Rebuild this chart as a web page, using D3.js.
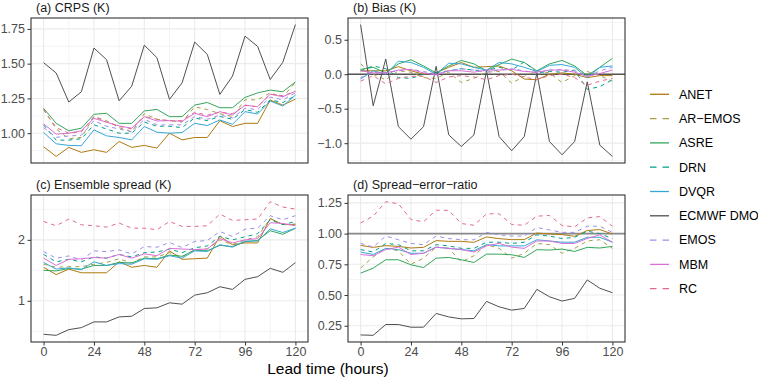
<!DOCTYPE html>
<html><head><meta charset="utf-8">
<script src="https://cdn.jsdelivr.net/npm/d3@7"></script>
<style>body{margin:0;background:#fff}svg{font-family:"Liberation Sans",Arial,Helvetica,sans-serif}</style>
</head><body><svg id="c" width="758" height="380"></svg>
<script>
const leadTimes = [0,6,12,18,24,30,36,42,48,54,60,66,72,78,84,90,96,102,108,114,120];
const models = ["ANET","AR−EMOS","ASRE","DRN","DVQR","ECMWF DMO","EMOS","MBM","RC"];
const colors = ["#B07A10","#A3A046","#33A65A","#00A08A","#35A8D6","#505050","#9C8FEA","#DA6FD8","#E36B8D"];
const dashed = [false,true,false,true,false,false,true,false,true];
const panelTitles = ["(a) CRPS (K)","(b) Bias (K)","(c) Ensemble spread (K)","(d) Spread−error−ratio"];
const refLines = [null, 0, null, 1];
const yTicksA = [1.00,1.25,1.50,1.75];
const yTicksB = [-1.0,-0.5,0.0,0.5];
const yTicksC = [1,2];
const yTicksD = [0.25,0.50,0.75,1.00,1.25];
const xTicks = [0,24,48,72,96,120];

// (a) CRPS, rows in model order
const crps = [
 [0.902,0.833,0.898,0.862,0.881,0.862,0.940,0.898,0.912,0.893,1.000,0.952,0.969,0.969,1.090,1.048,1.071,1.071,1.238,1.202,1.245],
 [1.170,1.030,0.960,0.970,1.120,1.090,1.040,1.010,1.140,1.100,1.090,1.080,1.190,1.170,1.140,1.120,1.240,1.240,1.290,1.260,1.365],
 [1.179,1.071,1.017,1.036,1.136,1.143,1.071,1.071,1.160,1.171,1.119,1.119,1.202,1.221,1.183,1.183,1.257,1.290,1.310,1.298,1.369],
 [1.060,0.950,0.950,0.960,1.060,1.030,1.000,1.000,1.080,1.050,1.050,1.040,1.110,1.090,1.120,1.100,1.170,1.150,1.240,1.220,1.270],
 [1.005,0.924,0.912,0.910,1.024,0.981,0.969,0.952,1.048,1.007,1.000,1.005,1.071,1.055,1.095,1.064,1.155,1.138,1.231,1.195,1.274],
 [1.507,1.433,1.224,1.298,1.612,1.529,1.233,1.338,1.633,1.543,1.243,1.362,1.655,1.567,1.279,1.410,1.698,1.624,1.386,1.510,1.781],
 [1.040,0.970,0.980,0.985,1.090,1.050,1.030,1.010,1.100,1.060,1.060,1.060,1.120,1.100,1.130,1.110,1.180,1.170,1.260,1.240,1.290],
 [1.067,0.993,1.000,1.017,1.107,1.079,1.052,1.036,1.119,1.088,1.090,1.086,1.143,1.119,1.155,1.131,1.202,1.190,1.281,1.262,1.302],
 [1.170,1.040,1.000,1.010,1.120,1.080,1.050,1.030,1.120,1.100,1.090,1.090,1.150,1.130,1.150,1.140,1.200,1.190,1.280,1.270,1.300]
];
// (b) Bias
const bias = [
 [0.05,0.05,0.05,0.11,0.05,0.00,0.02,0.10,0.17,0.10,0.11,0.12,0.05,-0.07,-0.08,0.00,0.02,0.00,-0.05,-0.02,-0.02],
 [0.15,0.00,-0.08,0.05,0.03,-0.05,-0.06,0.03,-0.12,-0.06,0.03,0.04,-0.13,-0.03,0.05,0.02,-0.12,-0.02,0.04,-0.02,-0.10],
 [0.07,0.10,0.02,0.15,0.21,0.12,0.02,0.12,0.20,0.15,0.05,0.14,0.22,0.17,0.05,0.15,0.20,0.12,-0.02,0.10,0.23],
 [0.05,0.12,0.08,-0.05,-0.06,0.00,0.02,0.05,0.08,0.06,0.05,0.10,0.06,0.18,0.02,0.04,0.03,0.06,-0.22,-0.18,-0.08],
 [-0.07,0.05,0.00,0.19,0.17,0.10,0.00,0.16,0.15,0.10,0.06,0.17,0.15,0.10,0.04,0.13,0.14,0.10,-0.05,0.10,0.12],
 [0.72,-0.457,0.221,-0.76,-0.942,-0.76,0.115,-0.88,-1.048,-0.88,0.048,-0.904,-1.11,-0.904,0.019,-0.976,-1.168,-0.976,-0.11,-1.029,-1.192],
 [-0.05,0.03,0.02,0.05,0.07,0.04,0.00,0.05,0.08,0.06,0.03,0.06,0.08,0.05,0.02,0.06,0.07,0.05,-0.04,0.05,0.10],
 [0.05,0.02,0.02,0.06,0.07,0.02,-0.01,0.05,0.05,0.03,0.06,0.06,0.07,0.04,0.03,0.06,0.06,0.03,-0.03,0.01,0.06],
 [-0.10,-0.02,-0.14,-0.06,-0.03,-0.03,-0.12,-0.04,-0.02,-0.04,-0.08,-0.02,0.00,-0.04,-0.08,-0.02,0.00,-0.05,-0.16,-0.10,-0.06]
];
// (c) Ensemble spread
const spread = [
 [1.55,1.43,1.52,1.46,1.46,1.46,1.64,1.55,1.58,1.55,1.82,1.68,1.69,1.70,2.06,1.92,1.95,1.95,2.35,2.25,2.25],
 [1.60,1.55,1.56,1.56,1.60,1.63,1.69,1.62,1.72,1.72,1.79,1.72,1.84,1.85,2.00,1.92,2.00,2.05,2.35,2.25,2.26],
 [1.50,1.49,1.53,1.52,1.58,1.58,1.63,1.62,1.70,1.69,1.75,1.73,1.83,1.82,1.91,1.89,1.97,1.99,2.15,2.09,2.19],
 [1.76,1.64,1.68,1.64,1.72,1.70,1.76,1.72,1.79,1.80,1.85,1.79,1.87,1.90,2.06,2.00,2.05,2.10,2.33,2.25,2.30],
 [1.63,1.52,1.54,1.51,1.64,1.58,1.61,1.60,1.69,1.68,1.74,1.70,1.82,1.81,1.92,1.88,1.98,1.98,2.18,2.12,2.19],
 [0.451,0.434,0.527,0.560,0.654,0.654,0.736,0.747,0.874,0.885,0.967,0.945,1.093,1.132,1.231,1.187,1.352,1.396,1.533,1.467,1.626],
 [1.808,1.698,1.736,1.670,1.819,1.808,1.835,1.769,1.890,1.879,1.956,1.874,1.973,1.989,2.137,2.055,2.176,2.192,2.396,2.330,2.396],
 [1.70,1.58,1.68,1.69,1.71,1.70,1.76,1.70,1.77,1.74,1.86,1.85,1.84,1.85,2.02,1.95,2.00,2.02,2.28,2.27,2.23],
 [2.302,2.231,2.341,2.247,2.231,2.209,2.275,2.192,2.192,2.165,2.302,2.220,2.220,2.231,2.423,2.319,2.330,2.341,2.626,2.538,2.505]
];
// (d) Spread-error-ratio
const ser = [
 [0.904,0.888,0.902,0.896,0.883,0.888,0.943,0.937,0.937,0.929,0.973,0.959,0.951,0.951,1.005,0.997,0.992,0.978,1.025,1.033,0.997],
 [0.72,0.81,0.88,0.86,0.75,0.80,0.89,0.88,0.77,0.82,0.91,0.88,0.80,0.84,0.92,0.91,0.84,0.88,0.94,0.95,0.88],
 [0.678,0.719,0.787,0.787,0.746,0.724,0.800,0.806,0.787,0.765,0.833,0.833,0.828,0.806,0.869,0.866,0.874,0.855,0.888,0.883,0.896],
 [0.87,0.85,0.92,0.91,0.86,0.86,0.91,0.90,0.88,0.88,0.93,0.93,0.92,0.93,0.99,0.98,0.96,0.97,1.02,1.00,0.96],
 [0.85,0.83,0.88,0.87,0.84,0.84,0.89,0.88,0.87,0.86,0.91,0.90,0.90,0.90,0.95,0.94,0.93,0.93,0.97,0.97,0.93],
 [0.175,0.172,0.260,0.260,0.238,0.238,0.350,0.322,0.306,0.309,0.448,0.404,0.377,0.391,0.546,0.486,0.451,0.473,0.623,0.555,0.519],
 [0.92,0.89,0.98,0.95,0.92,0.91,0.98,0.96,0.95,0.95,1.01,0.99,0.98,0.98,1.05,1.03,1.01,1.01,1.06,1.06,1.01],
 [0.83,0.82,0.87,0.89,0.83,0.84,0.89,0.88,0.87,0.85,0.90,0.92,0.89,0.88,0.94,0.94,0.92,0.92,0.96,0.99,0.93],
 [1.087,1.142,1.260,1.243,1.115,1.096,1.191,1.189,1.082,1.068,1.161,1.161,1.074,1.068,1.142,1.148,1.066,1.055,1.128,1.139,1.060]
];

const metrics = [crps, bias, spread, ser];
const yTicks = [yTicksA, yTicksB, yTicksC, yTicksD];
const yFmt = [d3.format(".2f"), d3.format(".1f"), d3.format("d"), d3.format(".2f")];

const svg = d3.select("#c");
const panels = [
  {x0:31, x1:308, y0:18, y1:163, showX:false},
  {x0:348, x1:625, y0:18, y1:163, showX:false},
  {x0:31, x1:308, y0:195, y1:342, showX:true},
  {x0:348, x1:625, y0:195, y1:342, showX:true}
];
const minus = s => s.replace("-", "−");
const FONT = "'Liberation Sans',Arial,sans-serif";

panels.forEach((p, k) => {
  const data = metrics[k];
  const all = data.flat();
  const [lo, hi] = d3.extent(all);
  const pad = (hi - lo) * 0.05;
  const x = d3.scaleLinear().domain([-6, 126]).range([p.x0, p.x1]);
  const y = d3.scaleLinear().domain([lo - pad, hi + pad]).range([p.y1, p.y0]);
  const g = svg.append("g");
  g.append("rect").attr("x", p.x0).attr("y", p.y0).attr("width", p.x1 - p.x0).attr("height", p.y1 - p.y0).attr("fill", "#fff");
  const yt = yTicks[k];
  const step = yt[1] - yt[0];
  const minorY = [];
  for (let v = yt[0] - step / 2; v <= hi + pad; v += step) if (v >= lo - pad) minorY.push(v);
  g.selectAll(".my").data(minorY).join("line").attr("x1", p.x0).attr("x2", p.x1)
    .attr("y1", d => y(d)).attr("y2", d => y(d)).attr("stroke", "#EBEBEB").attr("stroke-width", 0.55);
  const minorX = [12, 36, 60, 84, 108];
  g.selectAll(".mx").data(minorX).join("line").attr("y1", p.y0).attr("y2", p.y1)
    .attr("x1", d => x(d)).attr("x2", d => x(d)).attr("stroke", "#EBEBEB").attr("stroke-width", 0.55);
  g.selectAll(".gy").data(yt).join("line").attr("x1", p.x0).attr("x2", p.x1)
    .attr("y1", d => y(d)).attr("y2", d => y(d)).attr("stroke", "#EBEBEB").attr("stroke-width", 1.1);
  g.selectAll(".gx").data(xTicks).join("line").attr("y1", p.y0).attr("y2", p.y1)
    .attr("x1", d => x(d)).attr("x2", d => x(d)).attr("stroke", "#EBEBEB").attr("stroke-width", 1.1);
  if (refLines[k] !== null) {
    g.append("line").attr("x1", p.x0).attr("x2", p.x1).attr("y1", y(refLines[k])).attr("y2", y(refLines[k]))
      .attr("stroke", k === 1 ? "#555" : "#8a8a8a").attr("stroke-width", k === 1 ? 1.3 : 1.6);
  }
  const line = d3.line().x((d, i) => x(leadTimes[i])).y(d => y(d));
  data.forEach((s, m) => {
    g.append("path").attr("d", line(s)).attr("fill", "none").attr("stroke", colors[m])
      .attr("stroke-width", 1).attr("stroke-dasharray", dashed[m] ? "4,4" : null);
  });
  g.append("rect").attr("x", p.x0).attr("y", p.y0).attr("width", p.x1 - p.x0).attr("height", p.y1 - p.y0)
    .attr("fill", "none").attr("stroke", "#333").attr("stroke-width", 1.1);
  const ya = d3.axisLeft(y).tickValues(yt).tickSize(3.5).tickPadding(2.5).tickFormat(d => minus(yFmt[k](d)));
  const ag = g.append("g").attr("transform", `translate(${p.x0},0)`).call(ya);
  ag.select(".domain").remove();
  ag.selectAll("line").attr("stroke", "#333");
  ag.selectAll("text").attr("fill", "#4D4D4D").style("font-size", "12.5px").style("font-family", FONT);
  if (p.showX) {
    const xa = d3.axisBottom(x).tickValues(xTicks).tickSize(3.5).tickPadding(2).tickFormat(d3.format("d"));
    const bg = g.append("g").attr("transform", `translate(0,${p.y1})`).call(xa);
    bg.select(".domain").remove();
    bg.selectAll("line").attr("stroke", "#333");
    bg.selectAll("text").attr("fill", "#4D4D4D").style("font-size", "12.5px").style("font-family", FONT);
  }
  svg.append("text").attr("x", p.x0 + 5).attr("y", p.y0 - 6).attr("fill", "#1a1a1a")
    .style("font-size", "12.5px").text(panelTitles[k]);
});

svg.append("text").attr("x", 328).attr("y", 374).attr("text-anchor", "middle")
  .style("font-size", "15.5px").attr("fill", "#000").text("Lead time (hours)");

const lg = svg.append("g");
models.forEach((m, i) => {
  const yy = 94.3 + i * 24.3;
  lg.append("line").attr("x1", 650).attr("x2", 669).attr("y1", yy).attr("y2", yy)
    .attr("stroke", colors[i]).attr("stroke-width", 1.3).attr("stroke-dasharray", dashed[i] ? "6.5,6" : null);
  lg.append("text").attr("x", 679).attr("y", yy).attr("dy", "0.35em").style("font-size", "12.5px")
    .attr("fill", "#000").text(m);
});
</script></body></html>
